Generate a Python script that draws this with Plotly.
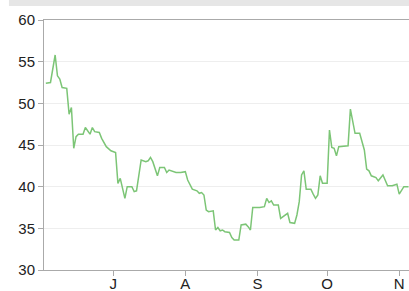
import plotly.graph_objects as go

dates = [
    "2013-06-02", "2013-06-04", "2013-06-06", "2013-06-07", "2013-06-08", "2013-06-09",
    "2013-06-11", "2013-06-12", "2013-06-13", "2013-06-14", "2013-06-15", "2013-06-16",
    "2013-06-18", "2013-06-19", "2013-06-21", "2013-06-22", "2013-06-23", "2013-06-25",
    "2013-06-26", "2013-06-28", "2013-06-30", "2013-07-02", "2013-07-03", "2013-07-04",
    "2013-07-06", "2013-07-07", "2013-07-09", "2013-07-10", "2013-07-11", "2013-07-13",
    "2013-07-15", "2013-07-16", "2013-07-17", "2013-07-18", "2013-07-20", "2013-07-21",
    "2013-07-23", "2013-07-24", "2013-07-25", "2013-07-28", "2013-07-30", "2013-08-01",
    "2013-08-02", "2013-08-04", "2013-08-06", "2013-08-07", "2013-08-08", "2013-08-09",
    "2013-08-10", "2013-08-11", "2013-08-13", "2013-08-14", "2013-08-15", "2013-08-16",
    "2013-08-17", "2013-08-18", "2013-08-20", "2013-08-21", "2013-08-22", "2013-08-24",
    "2013-08-25", "2013-08-27", "2013-08-28", "2013-08-29", "2013-08-30", "2013-09-02",
    "2013-09-04", "2013-09-05", "2013-09-06", "2013-09-07", "2013-09-08", "2013-09-10",
    "2013-09-11", "2013-09-12", "2013-09-14", "2013-09-15", "2013-09-17", "2013-09-18",
    "2013-09-19", "2013-09-20", "2013-09-21", "2013-09-22", "2013-09-24", "2013-09-25",
    "2013-09-26", "2013-09-27", "2013-09-28", "2013-09-29", "2013-10-01", "2013-10-02",
    "2013-10-03", "2013-10-04", "2013-10-05", "2013-10-06", "2013-10-10", "2013-10-11",
    "2013-10-13", "2013-10-15", "2013-10-17", "2013-10-18", "2013-10-19", "2013-10-20",
    "2013-10-22", "2013-10-23", "2013-10-25", "2013-10-27", "2013-10-29", "2013-10-31",
    "2013-11-01", "2013-11-03", "2013-11-05",
]
values = [
    52.4, 52.5, 55.8, 53.3, 52.9, 51.9,
    51.8, 48.7, 49.5, 44.6, 46.0, 46.3,
    46.3, 47.1, 46.3, 47.1, 46.6, 46.5,
    45.8, 44.8, 44.3, 44.1, 40.4, 41.0,
    38.6, 40.0, 40.0, 39.4, 39.5, 43.2,
    43.0, 43.1, 43.5, 43.0, 41.3, 42.3,
    42.3, 41.7, 42.0, 41.7, 41.7, 41.8,
    40.8, 39.7, 39.5, 39.2, 39.3, 39.0,
    37.2, 37.0, 37.1, 34.8, 35.1, 34.7,
    34.8, 34.6, 34.5, 33.9, 33.6, 33.6,
    35.4, 35.5, 35.2, 34.8, 37.5, 37.5,
    37.6, 38.6, 38.1, 38.3, 37.8, 37.8,
    36.2, 36.4, 36.8, 35.7, 35.6, 36.6,
    38.2, 41.4, 41.9, 39.7, 39.7, 39.1,
    38.6, 39.0, 41.3, 40.4, 40.4, 46.8,
    44.7, 44.6, 43.7, 44.8, 44.9, 49.3,
    46.4, 46.4, 44.4, 42.1, 41.9, 41.3,
    41.1, 40.7, 41.4, 40.1, 40.1, 40.3,
    39.1, 40.0, 40.0,
]
tick_dates = ["2013-07-01", "2013-08-01", "2013-09-01", "2013-10-01", "2013-11-01"]
tick_labels = ["J", "A", "S", "O", "N"]
y_ticks = [30, 35, 40, 45, 50, 55, 60]

fig = go.Figure()
fig.add_trace(go.Scatter(
    x=dates, y=values, mode="lines",
    line=dict(color="#7cc576", width=1.5),
    showlegend=False, hoverinfo="skip",
))

fig.add_shape(type="rect", xref="paper", yref="paper",
              x0=-0.096, x1=1.0, y0=1.056, y1=1.08,
              fillcolor="#e6e6e6", line=dict(width=0), layer="below")

fig.update_layout(
    width=409, height=291,
    margin=dict(l=44, r=0, t=20, b=21, autoexpand=False),
    paper_bgcolor="white", plot_bgcolor="white",
    font=dict(family="Liberation Sans, Arial, sans-serif", size=15, color="#222222"),
    xaxis=dict(
        type="date", automargin=False,
        range=["2013-06-01 05:00", "2013-11-05 05:00"],
        tickvals=tick_dates, ticktext=tick_labels,
        showgrid=False, zeroline=False,
        showline=True, linecolor="#aaaaaa", linewidth=1, mirror=True,
        ticks="outside", ticklen=5, tickcolor="#aaaaaa",
        ticklabelstandoff=-5,
    ),
    yaxis=dict(
        range=[30, 60], tickvals=y_ticks, automargin=False,
        showgrid=True, gridcolor="#eeeeee", zeroline=False,
        showline=True, linecolor="#aaaaaa", linewidth=1,
        ticks="outside", ticklen=5, tickcolor="#aaaaaa",
    ),
)

fig.write_html(
    "out.html",
    config={"displayModeBar": False},
    post_script="document.body.style.margin='0';document.body.style.overflow='hidden';",
)
